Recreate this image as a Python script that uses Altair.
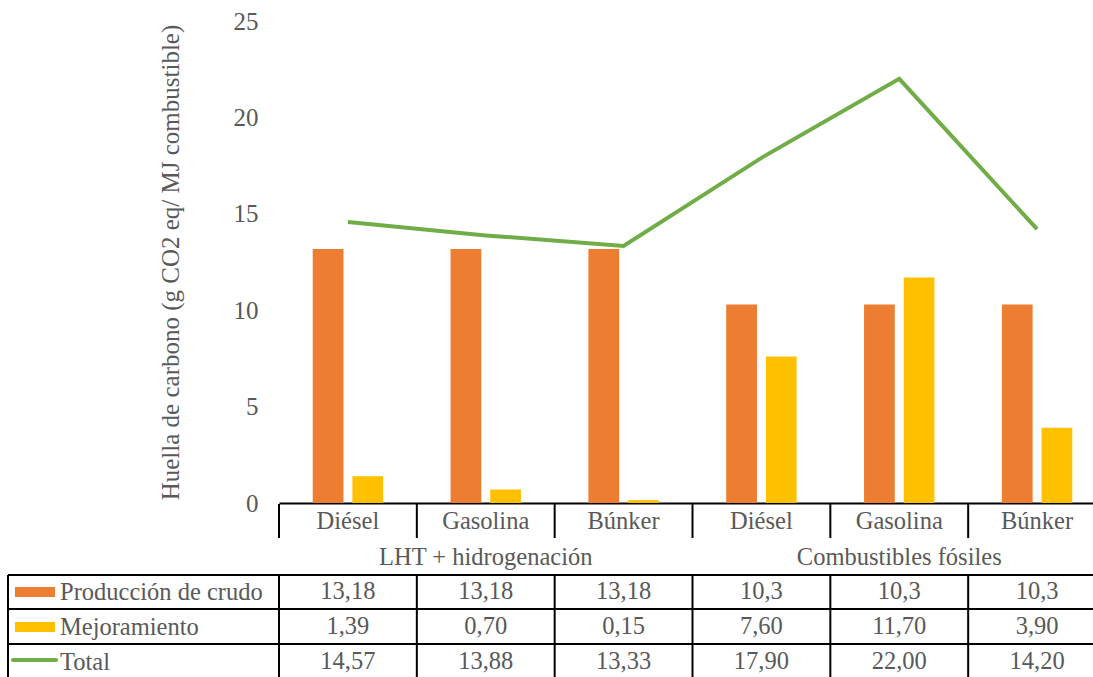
import altair as alt
import pandas as pd

# ---------------- data ----------------
groups = ["LHT + hidrogenación", "Combustibles fósiles"]
fuels = ["Diésel", "Gasolina", "Búnker"]
series = ["Producción de crudo", "Mejoramiento", "Total"]
produccion = [13.18, 13.18, 13.18, 10.3, 10.3, 10.3]
mejoramiento = [1.39, 0.70, 0.15, 7.60, 11.70, 3.90]
total = [14.57, 13.88, 13.33, 17.90, 22.00, 14.20]
produccion_txt = ["13,18", "13,18", "13,18", "10,3", "10,3", "10,3"]
mejoramiento_txt = ["1,39", "0,70", "0,15", "7,60", "11,70", "3,90"]
total_txt = ["14,57", "13,88", "13,33", "17,90", "22,00", "14,20"]
y_ticks = [0, 5, 10, 15, 20, 25]
colors = ["#ED7D31", "#FFC000", "#70AD47"]

categories = [f"{g}|{f}" for g in groups for f in fuels]
fuel_of = [f for g in groups for f in fuels]
group_of = [g for g in groups for f in fuels]

bar_df = pd.DataFrame(
    [{"cat": c, "serie": series[0], "value": v} for c, v in zip(categories, produccion)]
    + [{"cat": c, "serie": series[1], "value": v} for c, v in zip(categories, mejoramiento)]
)
tab_df = pd.DataFrame({
    "cat": categories, "fuel": fuel_of, "group": group_of, "total": total,
    "prod_txt": produccion_txt, "mej_txt": mejoramiento_txt, "tot_txt": total_txt,
})
group_df = pd.DataFrame({"cat": [categories[1], categories[4]], "group": groups})
legend_df = pd.DataFrame({"serie": series})

# ---------------- styling ----------------
FONT = "Liberation Serif"
GRAY = "#595959"
TXT = "#595959"
FS = 24.5    # table labels
NFS = 24.5   # table numbers
AFS = 25     # axis
COLW = 827  # full width of the six columns (last one is cut by the frame)

xscale = alt.Scale(domain=categories, range=[0, COLW], paddingInner=0, paddingOuter=0)
yscale = alt.Scale(domain=[0, 25], nice=False, zero=True)
cscale = alt.Scale(domain=series, range=colors)
X = alt.X("cat:N", scale=xscale,
          axis=alt.Axis(labels=False, ticks=False, title=None, domainColor="black", domainWidth=2))

bars = alt.Chart(bar_df).mark_bar().encode(
    x=X,
    xOffset=alt.XOffset("serie:N", scale=alt.Scale(domain=series[:2], paddingInner=0.225, paddingOuter=0.85)),
    y=alt.Y("value:Q", scale=yscale, stack=None,
            axis=alt.Axis(values=y_ticks, title="Huella de carbono (g CO2 eq/ MJ combustible)",
                          grid=False, domain=False, ticks=False, tickSize=0, labelPadding=21,
                          titlePadding=50, labelFont=FONT, titleFont=FONT,
                          labelFontSize=AFS, titleFontSize=AFS, labelColor=GRAY, titleColor=GRAY,
                          titleFontWeight="normal")),
    color=alt.Color("serie:N", scale=cscale, legend=None),
)

line = alt.Chart(tab_df).mark_line(color=colors[2], strokeWidth=4).encode(
    x=alt.X("cat:N", scale=xscale), y=alt.Y("total:Q", scale=yscale))

def txt(field, ypix, size, data=tab_df):
    return alt.Chart(data).mark_text(font=FONT, fontSize=size, color=TXT).encode(
        x=alt.X("cat:N", scale=xscale), y=alt.value(ypix), text=f"{field}:N")

texts = [
    txt("fuel", 501, FS),
    txt("group", 537, FS, group_df),
    txt("prod_txt", 571, NFS),
    txt("mej_txt", 606, NFS),
    txt("tot_txt", 641, NFS),
]

one = alt.Data(values=[{}])
rules = []
# vertical separators at each column's left edge
for y1, y2 in [(483, 517), (554, 670)]:
    rules.append(alt.Chart(tab_df).mark_rule(color="black", strokeWidth=2).encode(
        x=alt.X("cat:N", scale=xscale, bandPosition=0), y=alt.value(y1), y2=alt.value(y2)))
rules.append(alt.Chart(group_df).mark_rule(color="black", strokeWidth=2).encode(
    x=alt.X("cat:N", scale=xscale, bandPosition=0), y=alt.value(517), y2=alt.value(554)
).transform_filter("indexof(datum.cat, 'Gasolina') < 0"))
for yy in [554, 588, 623]:
    rules.append(alt.Chart(one).mark_rule(color="black", strokeWidth=2).encode(
        x=alt.value(-271), x2=alt.value(COLW), y=alt.value(yy)))
rules.append(alt.Chart(one).mark_rule(color="black", strokeWidth=2).encode(
    x=alt.value(-271), y=alt.value(554), y2=alt.value(670)))

# legend swatches and row labels in the left column
swatch_y = {series[0]: 571, series[1]: 606}
legend_rects = [
    alt.Chart(legend_df).transform_filter(f"datum.serie == '{s}'").mark_rect().encode(
        x=alt.value(-264), x2=alt.value(-224), y=alt.value(yv - 5), y2=alt.value(yv + 5),
        color=alt.Color("serie:N", scale=cscale, legend=None))
    for s, yv in swatch_y.items()
]
legend_line = alt.Chart(legend_df).transform_filter(f"datum.serie == '{series[2]}'").mark_rule(
    strokeWidth=4, strokeCap="round").encode(
    x=alt.value(-266), x2=alt.value(-223), y=alt.value(639),
    color=alt.Color("serie:N", scale=cscale, legend=None))
row_labels = [
    alt.Chart(legend_df).transform_filter(f"datum.serie == '{s}'").mark_text(
        font=FONT, fontSize=FS, color=TXT, align="left").encode(
        x=alt.value(-219), y=alt.value(yv), text="serie:N")
    for s, yv in zip(series, [572, 607, 642])
]

chart = alt.layer(bars, line, *texts, *rules, *legend_rects, legend_line, *row_labels).properties(
    width=814, height=482,
    autosize=alt.AutoSizeParams(type="none"),
    padding={"left": 279, "top": 21, "right": 0, "bottom": 174},
).configure(font=FONT).configure_view(stroke=None).configure_text(font=FONT)

chart.save("out.html", embed_options={"renderer": "svg", "actions": False})
